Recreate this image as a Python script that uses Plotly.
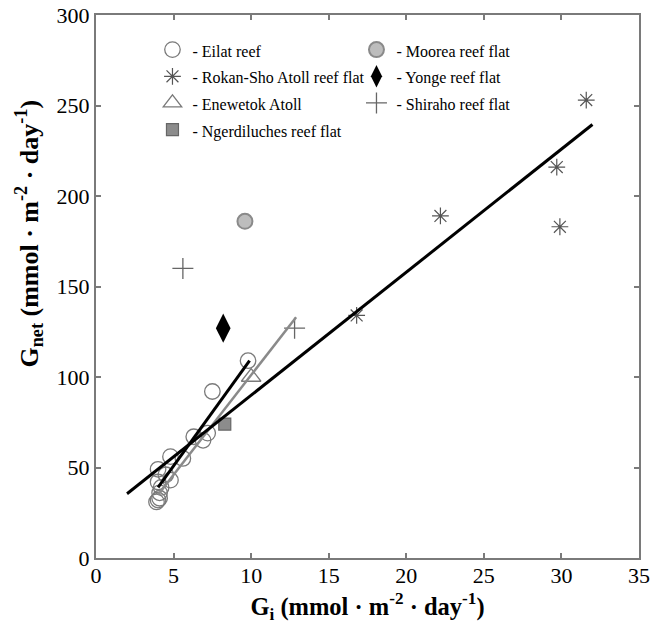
import plotly.graph_objects as go

# ---- data ----
eilat_x = [3.9, 4.0, 4.1, 4.1, 4.2, 4.0, 4.5, 4.8, 4.0, 4.8, 5.6, 6.3, 6.9, 7.2, 7.5, 9.8]
eilat_y = [31, 32, 33, 36, 39, 42, 46, 43, 49, 56, 55, 67, 65, 69, 92, 109]
moorea_x = [9.6]
moorea_y = [186]
rokan_x = [16.8, 22.2, 29.7, 29.9, 31.6]
rokan_y = [134, 189, 216, 183, 253]
yonge_x = [8.2]
yonge_y = [127]
enewetok_x = [10.0]
enewetok_y = [100]
shiraho_x = [5.6, 12.8]
shiraho_y = [160, 127]
ngerd_x = [8.3]
ngerd_y = [74]

# regression lines (end points)
fit_all_x = [2.0, 32.0]
fit_all_y = [35.5, 239.5]
fit_eilat_x = [4.0, 9.9]
fit_eilat_y = [39, 109]
fit_grey_x = [4.0, 12.9]
fit_grey_y = [35, 133]

xticks = [0, 5, 10, 15, 20, 25, 30, 35]
yticks = [0, 50, 100, 150, 200, 250, 300]

SERIF = "Liberation Serif"
GREY = "#7a7a7a"


def lab(t):
    return '<span style="font-size:16px">' + t + '</span>'


fig = go.Figure()

fig.add_trace(go.Scatter(x=eilat_x, y=eilat_y, mode="markers", name=lab("- Eilat reef"),
                         marker=dict(symbol="circle-open", size=15.5, color=GREY, line=dict(width=1.3, color=GREY))))
fig.add_trace(go.Scatter(x=moorea_x, y=moorea_y, mode="markers", name=lab("- Moorea reef flat"),
                         marker=dict(symbol="circle", size=15, color="#bdbdbd", line=dict(width=2, color="#8a8a8a"))))
fig.add_trace(go.Scatter(x=rokan_x, y=rokan_y, mode="markers", name=lab("- Rokan-Sho Atoll reef flat"),
                         marker=dict(symbol="asterisk-open", size=14, color="#555555", line=dict(width=1.2, color="#555555"))))
fig.add_trace(go.Scatter(x=yonge_x, y=yonge_y, mode="markers", name=lab("- Yonge reef flat"),
                         marker=dict(symbol="diamond-tall", size=21, color="black", line=dict(width=0))))
fig.add_trace(go.Scatter(x=enewetok_x, y=enewetok_y, mode="markers", name=lab("- Enewetok Atoll"),
                         marker=dict(symbol="triangle-up-open", size=17, color=GREY, line=dict(width=1.3, color=GREY))))
fig.add_trace(go.Scatter(x=shiraho_x, y=shiraho_y, mode="markers", name=lab("- Shiraho reef flat"),
                         marker=dict(symbol="cross-thin-open", size=15, color="#666666", line=dict(width=1.3, color="#666666"))))
fig.add_trace(go.Scatter(x=ngerd_x, y=ngerd_y, mode="markers", name=lab("- Ngerdiluches reef flat"),
                         marker=dict(symbol="square", size=12, color="#8c8c8c", line=dict(width=1.2, color="#666666"))))

fig.add_trace(go.Scatter(x=fit_grey_x, y=fit_grey_y, mode="lines", showlegend=False,
                         line=dict(color="#8a8a8a", width=2.5)))
fig.add_trace(go.Scatter(x=fit_eilat_x, y=fit_eilat_y, mode="lines", showlegend=False,
                         line=dict(color="black", width=3)))
fig.add_trace(go.Scatter(x=fit_all_x, y=fit_all_y, mode="lines", showlegend=False,
                         line=dict(color="black", width=3)))

axis_common = dict(
    ticks="inside", ticklen=5, tickwidth=1.5, tickcolor=GREY,
    showline=True, linecolor=GREY, linewidth=2, mirror="ticks",
    showgrid=False, zeroline=False, ticklabeloverflow="allow", automargin=False,
    tickfont=dict(family=SERIF, size=22, color="black"),
)

fig.update_layout(
    width=650, height=628,
    margin=dict(l=96, r=11, t=15, b=70, autoexpand=False),
    paper_bgcolor="white", plot_bgcolor="white",
    xaxis=dict(range=[0, 35], tickvals=xticks, ticklabelstandoff=-3, **axis_common,
               title=dict(text="<b>G<sub>i</sub> (mmol · m<sup>-2</sup> · day<sup>-1</sup>)</b>",
                          font=dict(family=SERIF, size=24.5, color="black"), standoff=10)),
    yaxis=dict(range=[0, 300], tickvals=yticks, **axis_common),
    legend=dict(orientation="h", entrywidth=159, entrywidthmode="pixels",
                x=0.104, y=0.970, xanchor="left", yanchor="top",
                font=dict(family=SERIF, size=18.2, color="black"),
                bgcolor="rgba(0,0,0,0)", traceorder="normal"),
    showlegend=True,
    annotations=[dict(
        text="<b>G<sub>net</sub> (mmol · m<sup>-2</sup> · day<sup>-1</sup>)</b>",
        xref="paper", yref="paper", x=-0.124, y=0.597,
        xanchor="center", yanchor="middle", textangle=-90, showarrow=False,
        font=dict(family=SERIF, size=26, color="black"))],
)

fig.write_html("out.html", config={"displayModeBar": False},
               post_script="document.body.style.margin='0';")
